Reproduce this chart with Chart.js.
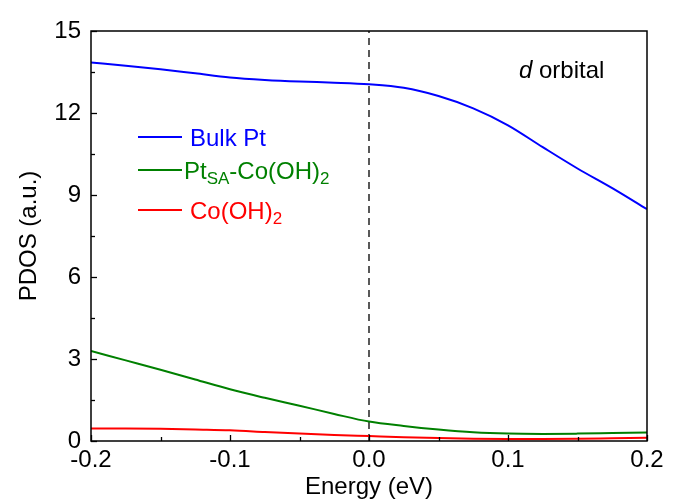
<!DOCTYPE html>
<html>
<head>
<meta charset="utf-8">
<script src="https://cdn.jsdelivr.net/npm/chart.js@4.4.1/dist/chart.umd.min.js"></script>
<style>
  html, body { margin: 0; padding: 0; background: #fff; }
  #wrap { width: 673px; height: 503px; }
</style>
</head>
<body>
<div id="wrap"><canvas id="pdosChart"></canvas></div>
<script>
// PDOS d orbital
const energia = [-0.2, -0.175, -0.15, -0.125, -0.1, -0.075, -0.05, -0.025, 0, 0.025, 0.05, 0.075, 0.1, 0.125, 0.15, 0.175, 0.2];
const bulkPt = [13.85, 13.73, 13.60, 13.45, 13.30, 13.21, 13.15, 13.11, 13.05, 12.92, 12.62, 12.17, 11.55, 10.75, 9.97, 9.25, 8.48];
const ptSaCoOH2 = [3.29, 2.95, 2.61, 2.25, 1.89, 1.58, 1.29, 0.99, 0.71, 0.55, 0.42, 0.32, 0.27, 0.26, 0.27, 0.29, 0.31];
const coOH2 = [0.46, 0.46, 0.45, 0.42, 0.39, 0.33, 0.27, 0.22, 0.18, 0.14, 0.11, 0.08, 0.07, 0.07, 0.08, 0.10, 0.12];
const fermi = [0, 0];
const fermiY = [0, 15];

const fuente = '"Liberation Sans", Arial, sans-serif';

const toXY = (xs, ys) => xs.map((x, i) => ({ x: x, y: ys[i] }));

// marco, ticks hacia adentro, leyenda y texto
const extras = {
    id: 'extras',
    afterDatasetsDraw(chart) {
        const ctx = chart.ctx;
        const area = chart.chartArea;
        const sx = chart.scales.x;
        const sy = chart.scales.y;
        ctx.save();
        ctx.strokeStyle = '#000';
        ctx.lineWidth = 1.5;
        ctx.strokeRect(area.left, area.top, area.right - area.left, area.bottom - area.top);

        ctx.lineWidth = 1.3;
        for (let v = 0; v <= 15; v += 1.5) {
            const y = Math.round(sy.getPixelForValue(v)) + 0.5;
            const len = (v % 3 === 0) ? 6 : 4;
            ctx.beginPath();
            ctx.moveTo(area.left, y);
            ctx.lineTo(area.left + len, y);
            ctx.stroke();
        }
        for (let k = -4; k <= 4; k++) {
            const v = k * 0.05;
            const x = Math.round(sx.getPixelForValue(v)) + 0.5;
            const len = (k % 2 === 0) ? 6 : 4;
            ctx.beginPath();
            ctx.moveTo(x, area.bottom);
            ctx.lineTo(x, area.bottom - len);
            ctx.stroke();
        }

        // leyenda
        const items = [
            { color: '#0000ff', y: 137, parts: [['Bulk Pt', 0]], tx: 190 },
            { color: '#008000', y: 170, parts: [['Pt', 0], ['SA', 1], ['-Co(OH)', 0], ['2', 1]], tx: 184 },
            { color: '#ff0000', y: 210, parts: [['Co(OH)', 0], ['2', 1]], tx: 190 }
        ];
        ctx.textBaseline = 'alphabetic';
        ctx.textAlign = 'left';
        items.forEach(it => {
            ctx.strokeStyle = it.color;
            ctx.lineWidth = 2;
            ctx.beginPath();
            ctx.moveTo(138, it.y);
            ctx.lineTo(182, it.y);
            ctx.stroke();
            ctx.fillStyle = it.color;
            let x = it.tx;
            it.parts.forEach(p => {
                if (p[1]) {
                    ctx.font = '17px ' + fuente;
                    ctx.fillText(p[0], x, it.y + 14);
                } else {
                    ctx.font = '24px ' + fuente;
                    ctx.fillText(p[0], x, it.y + 9);
                }
                x += ctx.measureText(p[0]).width;
            });
        });

        // d orbital
        ctx.fillStyle = '#000';
        ctx.font = 'italic 24px ' + fuente;
        ctx.fillText('d', 519, 78);
        const wd = ctx.measureText('d ').width;
        ctx.font = '24px ' + fuente;
        ctx.fillText('orbital', 519 + wd, 78);
        ctx.restore();
    }
};

const data = {
    datasets: [
        {
            label: 'Bulk Pt',
            data: toXY(energia, bulkPt),
            borderColor: '#0000ff',
            borderWidth: 2,
            pointRadius: 0,
            cubicInterpolationMode: 'monotone'
        },
        {
            label: 'Pt_SA-Co(OH)2',
            data: toXY(energia, ptSaCoOH2),
            borderColor: '#008000',
            borderWidth: 2,
            pointRadius: 0,
            cubicInterpolationMode: 'monotone'
        },
        {
            label: 'Co(OH)2',
            data: toXY(energia, coOH2),
            borderColor: '#ff0000',
            borderWidth: 2,
            pointRadius: 0,
            cubicInterpolationMode: 'monotone'
        },
        {
            label: 'Ef',
            data: toXY(fermi, fermiY),
            borderColor: '#000',
            borderWidth: 1.3,
            borderDash: [7, 5],
            pointRadius: 0
        }
    ]
};

const config = {
    type: 'line',
    data: data,
    options: {
        responsive: true,
        maintainAspectRatio: false,
        animation: false,
        layout: {
            padding: { top: 31, right: 26, left: 0, bottom: 0 }
        },
        plugins: {
            legend: { display: false },
            tooltip: { enabled: false }
        },
        scales: {
            x: {
                type: 'linear',
                min: -0.2,
                max: 0.2,
                grid: { display: false, drawTicks: false },
                border: { display: false },
                ticks: {
                    stepSize: 0.1,
                    padding: 5,
                    color: '#000',
                    font: { size: 24, family: fuente },
                    callback: v => v.toFixed(1)
                },
                title: {
                    display: true,
                    text: 'Energy (eV)',
                    color: '#000',
                    font: { size: 24, family: fuente },
                    padding: { top: 0, bottom: 1 }
                },
                afterFit: s => { s.height = 62; }
            },
            y: {
                min: 0,
                max: 15,
                grid: { display: false, drawTicks: false },
                border: { display: false },
                ticks: {
                    stepSize: 3,
                    padding: 10,
                    color: '#000',
                    font: { size: 24, family: fuente }
                },
                title: {
                    display: true,
                    text: 'PDOS (a.u.)',
                    color: '#000',
                    font: { size: 24, family: fuente },
                    padding: { top: 15, bottom: 0 }
                },
                afterFit: s => { s.width = 91; }
            }
        }
    },
    plugins: [extras]
};

const miGrafico = new Chart(document.getElementById('pdosChart'), config);
</script>
</body>
</html>
